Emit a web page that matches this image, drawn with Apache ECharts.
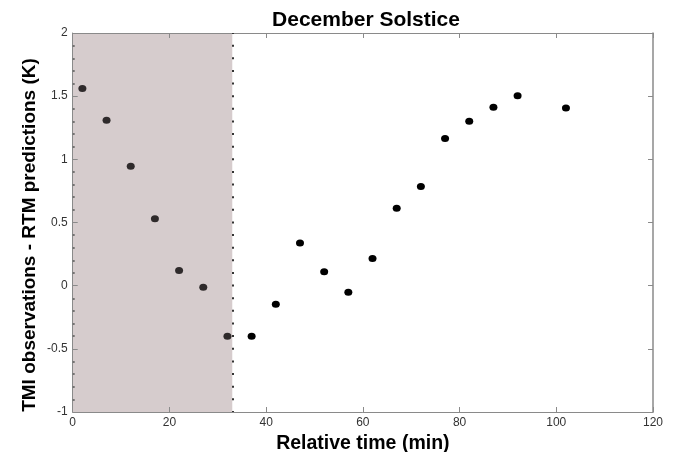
<!DOCTYPE html>
<html><head><meta charset="utf-8">
<script src="https://cdn.jsdelivr.net/npm/echarts@6/dist/echarts.min.js"></script>
<style>html,body{margin:0;padding:0;background:#fff}#c{width:674px;height:452px}</style>
</head><body><div id="c"></div>
<script>
var titleText = 'December Solstice';
var xName = 'Relative time (min)';
var yName = 'TMI observations - RTM predictions (K)';
var timeMin = [2, 7, 12, 17, 22, 27, 32, 37, 42, 47, 52, 57, 62, 67, 72, 77, 82, 87, 92, 102];
var diffK = [1.56, 1.31, 0.945, 0.53, 0.12, -0.013, -0.40, -0.40, -0.148, 0.338, 0.111, -0.053, 0.216, 0.612, 0.784, 1.164, 1.301, 1.412, 1.504, 1.407];
var shadeEnd = 33;
var xRange = [0, 120];
var yRange = [-1, 2];

var FONT = 'Liberation Sans, Arial, sans-serif';
var pts = timeMin.map(function (t, i) {
  return { value: [t, diffK[i]], itemStyle: { color: t < shadeEnd ? '#2f2a2b' : '#000', opacity: 1 } };
});
var axisGray = '#8a8a8a';
var labelStyle = { color: '#333', fontSize: 12, fontFamily: FONT };
var chart = echarts.init(document.getElementById('c'));
chart.setOption({
  animation: false,
  backgroundColor: '#fff',
  title: { text: titleText, left: 361, textAlign: 'center', top: 5,
    textStyle: { fontSize: 21, fontWeight: 'bold', color: '#000', fontFamily: FONT } },
  grid: { left: 72.7, right: 21, top: 33, bottom: 40, outerBoundsMode: 'none', containLabel: false },
  graphic: [{
    type: 'text', x: 30, y: 235, rotation: Math.PI / 2,
    style: { text: yName, fontSize: 19, fontWeight: 'bold', fill: '#000', fontFamily: FONT,
      align: 'center', verticalAlign: 'middle' }
  }],
  xAxis: [{
    type: 'value', min: xRange[0], max: xRange[1], interval: 20, position: 'bottom',
    name: xName, nameLocation: 'middle', nameGap: 22,
    nameTextStyle: { fontSize: 19.5, fontWeight: 'bold', color: '#000', fontFamily: FONT },
    axisLine: { show: true, onZero: false, lineStyle: { color: axisGray, width: 1 } },
    axisTick: { show: true, inside: true, length: 5, lineStyle: { color: axisGray } },
    axisLabel: Object.assign({ margin: 5 }, labelStyle),
    splitLine: { show: false }
  }, {
    type: 'value', min: xRange[0], max: xRange[1], interval: 20, position: 'top',
    axisLine: { show: true, onZero: false, lineStyle: { color: axisGray, width: 1 } },
    axisTick: { show: true, inside: true, length: 5, lineStyle: { color: axisGray } },
    axisLabel: { show: false }, splitLine: { show: false }
  }],
  yAxis: [{
    type: 'value', min: yRange[0], max: yRange[1], interval: 0.5, position: 'left',
    axisLine: { show: true, onZero: false, lineStyle: { color: axisGray, width: 1 } },
    axisTick: { show: true, inside: true, length: 5, lineStyle: { color: axisGray } },
    minorTick: { show: true, splitNumber: 5, length: 2, lineStyle: { color: '#555', width: 1.5 } },
    axisLabel: Object.assign({ margin: 5 }, labelStyle),
    splitLine: { show: false }, minorSplitLine: { show: false }
  }, {
    type: 'value', min: yRange[0], max: yRange[1], interval: 0.5, position: 'right',
    axisLine: { show: true, onZero: false, lineStyle: { color: axisGray, width: 1.5 } },
    axisTick: { show: true, inside: true, length: 5, lineStyle: { color: axisGray } },
    axisLabel: { show: false }, splitLine: { show: false }
  }],
  series: [{
    type: 'scatter', xAxisIndex: 0, yAxisIndex: 0,
    symbol: 'circle', symbolSize: [8, 7],
    data: pts,
    markArea: {
      silent: true, z: -1,
      itemStyle: { color: '#d6cccd', opacity: 1 },
      data: [[{ coord: [xRange[0], yRange[1]] }, { coord: [shadeEnd, yRange[0]] }]]
    },
    markLine: {
      silent: true, symbol: 'none', label: { show: false },
      lineStyle: { color: '#333', width: 2, type: [2, 10.63], dashOffset: 1, opacity: 1 },
      data: [[{ coord: [shadeEnd, yRange[1]] }, { coord: [shadeEnd, yRange[0]] }]]
    }
  }]
});
</script></body></html>
